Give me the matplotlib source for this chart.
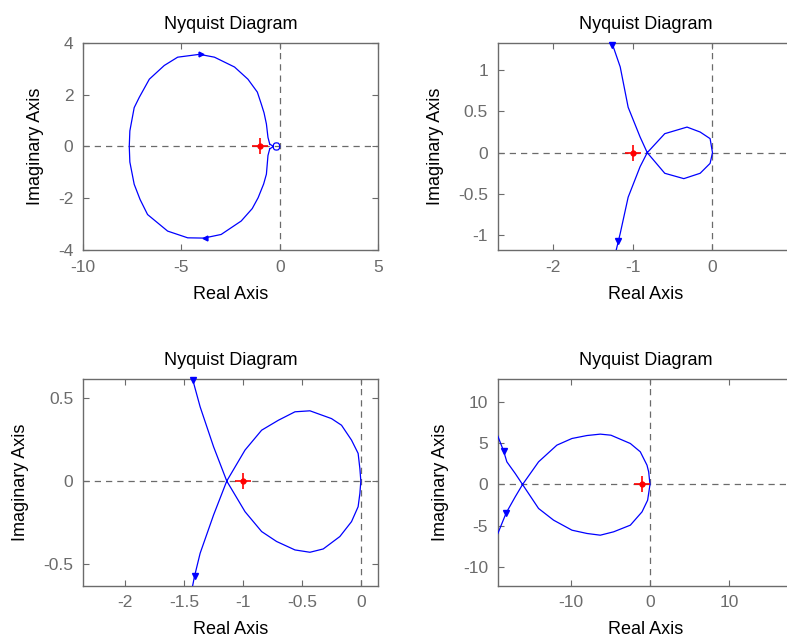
import numpy as np
import matplotlib as mpl
mpl.use('Agg')
from matplotlib import pyplot as plt

plt.rcParams['font.family'] = ['Liberation Sans', 'DejaVu Sans']
plt.rcParams['axes.unicode_minus'] = False

# ---- data ----
# plot 1 (top left): big loop plus small circle near origin
re1 = [-0.51, -0.60, -0.68, -0.80, -0.94, -1.14, -1.62, -2.30, -3.32, -4.08, -5.19, -5.87,
       -6.63, -7.14, -7.40, -7.62, -7.65, -7.62, -7.40, -7.10, -6.72, -5.70, -4.68,
       -3.86, -2.98, -1.96, -1.40, -1.10, -0.82, -0.68, -0.60, -0.51]
im1 = [0.09, 0.35, 0.87, 1.30, 1.64, 2.10, 2.60, 3.07, 3.45, 3.56, 3.45, 3.13,
       2.60, 1.90, 1.50, 0.60, 0.00, -0.60, -1.46, -2.05, -2.63, -3.27, -3.53,
       -3.54, -3.40, -2.88, -2.40, -1.98, -1.45, -1.07, -0.35, -0.09]
re1_loop = [-0.51, -0.40, -0.34, -0.31, -0.25, -0.17, -0.08, -0.02, 0.00, -0.02, -0.08,
            -0.17, -0.25, -0.31, -0.34, -0.40, -0.51]
im1_loop = [0.09, 0.04, 0.00, 0.09, 0.13, 0.14, 0.13, 0.08, 0.00, -0.08, -0.13,
            -0.14, -0.13, -0.09, 0.00, -0.04, -0.09]
arr1 = ([-4.02], [3.56], [-3.80], [-3.54])

# plot 2 (top right)
re2 = [-1.26, -1.16, -1.06, -0.91, -0.82, -0.60, -0.36, -0.155, -0.03, 0.00,
       -0.03, -0.155, -0.32, -0.60, -0.82, -0.91, -1.06, -1.16, -1.21]
im2 = [1.32, 1.04, 0.55, 0.19, 0.00, -0.25, -0.315, -0.25, -0.13, 0.00,
       0.17, 0.25, 0.31, 0.23, 0.00, -0.17, -0.54, -0.98, -1.18]
arr2 = ([-1.26, -1.19], [1.30, -1.07])

# plot 3 (bottom left)
re3 = [-1.427, -1.364, -1.25, -1.138, -0.983, -0.842, -0.715, -0.559, -0.432, -0.319,
       -0.178, -0.079, -0.023, -0.008, 0.0, -0.008, -0.023, -0.079, -0.164, -0.249,
       -0.432, -0.559, -0.70, -0.842, -0.983, -1.138, -1.25, -1.364, -1.412, -1.427]
im3 = [0.612, 0.448, 0.207, 0.0, -0.185, -0.305, -0.365, -0.416, -0.43, -0.41,
       -0.335, -0.245, -0.155, -0.074, 0.0, 0.074, 0.167, 0.247, 0.337, 0.377,
       0.424, 0.418, 0.367, 0.307, 0.187, 0.0, -0.205, -0.436, -0.576, -0.63]
arr3 = ([-1.427, -1.41], [0.61, -0.576])

# plot 4 (bottom right)
re4 = [-19.28, -18.56, -18.14, -17.08, -16.15, -14.12, -12.22, -9.89, -7.99, -6.30,
       -4.61, -2.49, -1.01, -0.30, 0.00, -0.17, -0.38, -1.23, -2.49, -4.95,
       -6.30, -7.99, -9.89, -11.80, -14.12, -16.15, -17.08, -18.22, -18.77, -19.28]
im4 = [5.88, 4.10, 2.76, 1.34, 0.00, -2.92, -4.34, -5.56, -5.96, -6.17,
       -5.76, -4.95, -3.33, -1.91, 0.00, 1.54, 2.35, 3.98, 4.99, 6.00,
       6.13, 5.96, 5.60, 4.79, 2.76, 0.00, -1.50, -3.45, -4.75, -5.96]
arr4 = ([-18.56, -18.22], [4.10, -3.45])

grey = '#6b6b6b'
blue = '#0000ff'


def setup(ax, xlim, ylim, xticks, yticks, xtl=None, ytl=None):
    ax.axhline(0, color=grey, ls=(0, (5, 4)), lw=0.9, zorder=1)
    ax.axvline(0, color=grey, ls=(0, (5, 4)), lw=0.9, zorder=1)
    ax.set_xlim(xlim)
    ax.set_ylim(ylim)
    ax.set_xticks(xticks)
    ax.set_yticks(yticks)
    if xtl:
        ax.set_xticklabels(xtl)
    if ytl:
        ax.set_yticklabels(ytl)
    ax.tick_params(direction='in', top=True, right=True, length=4, width=0.8,
                   color=grey, labelcolor=grey, labelsize=12.5, pad=7)
    for s in ax.spines.values():
        s.set_color(grey)
        s.set_linewidth(1.0)
    ax.set_title('Nyquist Diagram', fontsize=13, pad=10)
    ax.set_xlabel('Real Axis', fontsize=13, labelpad=8)
    ax.set_ylabel('Imaginary Axis', fontsize=13, labelpad=10)
    ax.plot([-1], [0], '+', color='red', ms=11, mew=1.2, zorder=4)
    ax.plot([-1], [0], 'o', color='red', ms=3.5, zorder=4)


fig = plt.figure(figsize=(7.87, 6.41), dpi=100)
w, h = 0.375, 0.323
ax1 = fig.add_axes([0.1055, 0.610, w, h])
ax2 = fig.add_axes([0.6324, 0.610, w, h])
ax3 = fig.add_axes([0.1055, 0.0865, w, h])
ax4 = fig.add_axes([0.6324, 0.0865, w, h])

# -- top left --
ax1.plot(re1, im1, color=blue, lw=0.9, zorder=3)
ax1.plot(re1_loop, im1_loop, color=blue, lw=0.9, zorder=3)
ax1.plot(arr1[0], arr1[1], '>', color=blue, ms=3.5, zorder=3)
ax1.plot(arr1[2], arr1[3], '<', color=blue, ms=3.5, zorder=3)
setup(ax1, (-10, 5), (-4, 4), [-10, -5, 0, 5], [-4, -2, 0, 2, 4])

# -- top right --
ax2.plot(re2, im2, color=blue, lw=0.9, zorder=3)
ax2.plot(arr2[0], arr2[1], 'v', color=blue, ms=5, zorder=3, clip_on=False)
setup(ax2, (-2.70, 1.01), (-1.18, 1.33), [-2, -1, 0], [-1, -0.5, 0, 0.5, 1],
      ytl=['-1', '-0.5', '0', '0.5', '1'])

# -- bottom left --
ax3.plot(re3, im3, color=blue, lw=0.9, zorder=3)
ax3.plot(arr3[0], arr3[1], 'v', color=blue, ms=5, zorder=3, clip_on=False)
setup(ax3, (-2.358, 0.147), (-0.631, 0.619), [-2, -1.5, -1, -0.5, 0], [-0.5, 0, 0.5],
      xtl=['-2', '-1.5', '-1', '-0.5', '0'], ytl=['-0.5', '0', '0.5'])

# -- bottom right --
ax4.plot(re4, im4, color=blue, lw=0.9, zorder=3)
ax4.plot(arr4[0], arr4[1], 'v', color=blue, ms=5, zorder=3)
setup(ax4, (-19.3, 18.1), (-12.3, 12.9), [-10, 0, 10], [-10, -5, 0, 5, 10])

fig.savefig('out.png', dpi=100)
